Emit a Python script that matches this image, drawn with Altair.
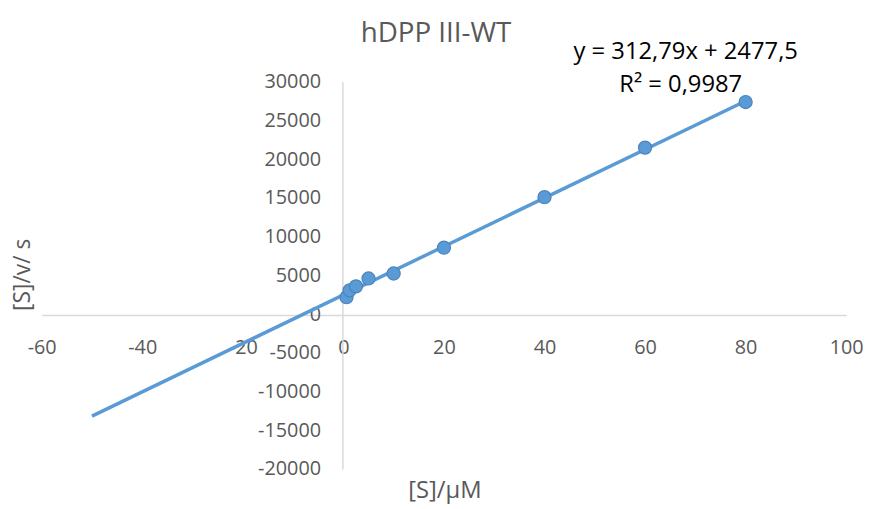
import altair as alt
import pandas as pd

# Data
s_uM = [0.625, 1.25, 2.5, 5, 10, 20, 40, 60, 80]
s_over_v = [2180, 3070, 3580, 4600, 5240, 8570, 15090, 21490, 27370]

# Trendline endpoints (y = 312,79x + 2477,5 drawn from x=-50 to x=80)
trend_x = [-50, 80]
trend_y = [-13162, 27501]

x_ticks = [-60, -40, -20, 0, 20, 40, 60, 80, 100]
y_ticks = [-20000, -15000, -10000, -5000, 0, 5000, 10000, 15000, 20000, 25000, 30000]

pts = pd.DataFrame({"x": s_uM, "y": s_over_v})
trend = pd.DataFrame({"x": trend_x, "y": trend_y})
one = pd.DataFrame({"a": [0]})

FONT = "Open Sans"
GRAY = "#595959"
BLUE = "#5B9BD5"

W, H = 812, 391
xscale = alt.Scale(domain=[-60, 100], nice=False, zero=False)
yscale = alt.Scale(domain=[-20000, 30000], nice=False, zero=False)

xaxis = alt.Axis(values=x_ticks, labelExpr="'' + datum.value", grid=False, ticks=False,
                 title=None, domainColor="#D9D9D9", domainWidth=1.5, labelColor=GRAY,
                 labelFont=FONT, labelFontSize=20, labelPadding=23,
                 labelFlush=False, labelOverlap=False, offset=-155.5)
yaxis = alt.Axis(values=y_ticks, labelExpr="'' + datum.value", grid=False, ticks=False,
                 title=None, domainColor="#D9D9D9", domainWidth=1.5, labelColor=GRAY,
                 labelFont=FONT, labelFontSize=20, labelPadding=22,
                 labelFlush=False, labelOverlap=False, offset=-303.5)

line = alt.Chart(trend).mark_line(color=BLUE, strokeWidth=3.5).encode(
    x=alt.X("x:Q", scale=xscale, axis=xaxis),
    y=alt.Y("y:Q", scale=yscale, axis=yaxis),
)

points = alt.Chart(pts).mark_point(
    filled=True, fill=BLUE, stroke="#4A84BE", strokeWidth=1.2, size=175, opacity=1
).encode(
    x=alt.X("x:Q", scale=xscale, axis=xaxis),
    y=alt.Y("y:Q", scale=yscale, axis=yaxis),
)

def label(text, x, y, size, color, angle=0):
    return alt.Chart(one).mark_text(
        text=text, font=FONT, fontSize=size, color=color, angle=angle,
        align="center", baseline="middle"
    ).encode(x=alt.value(x), y=alt.value(y))

title = label("hDPP III-WT", 398, -48, 28, GRAY)
eq1 = label("y = 312,79x + 2477,5", 650, -30, 24, "#000000")
eq2 = label("R² = 0,9987", 645, 3, 24, "#000000")
xtitle = label("[S]/μM", 407, 413, 24, GRAY)
ytitle = label("[S]/v/ s", -19, 195, 23, GRAY, angle=270)

chart = alt.layer(line, points, title, eq1, eq2, xtitle, ytitle).properties(
    width=W, height=H,
    autosize=alt.AutoSizeParams(type="none"),
    padding={"left": 34, "top": 72, "right": 19, "bottom": 40},
).configure(background="white").configure_view(stroke=None)

chart.save("out.html", embed_options={"renderer": "svg", "actions": False})
